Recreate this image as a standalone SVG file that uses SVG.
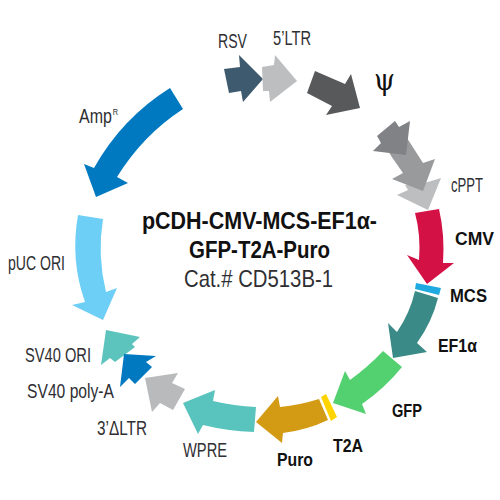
<svg xmlns="http://www.w3.org/2000/svg" width="500" height="500" viewBox="0 0 500 500">
<style>
text{font-family:"Liberation Sans",Arial,sans-serif;fill:#2f2f33}
.l{font-size:19.5px}
.b{font-size:18px;font-weight:700;fill:#111}
.t{font-size:23px;font-weight:700;fill:#111;text-anchor:start}
</style>
<rect width="500" height="500" fill="#fff"/>
<g id="connectors"/>
<g id="rsv"><path fill="#3e5a6e" d="M224 69L240 67L239 55L263 79L243 102L241 91L229 93Z"/><text class="l" x="218" y="48" textLength="29" lengthAdjust="spacingAndGlyphs">RSV</text></g>
<g id="ltr5"><path fill="#bcbec0" d="M262 67L274 65L275 55L297 81L270 102L269 91L263 91Z"/><text class="l" x="273" y="45" textLength="38" lengthAdjust="spacingAndGlyphs">5’LTR</text></g>
<g id="psi"><path fill="#58595b" d="M315 71L345 84L351 74L360 108L326 115L332 106L307 93Z"/><text x="374" y="90" font-size="29" style="font-family:'DejaVu Serif',serif;fill:#111" textLength="21" lengthAdjust="spacingAndGlyphs">ψ</text></g>
<g id="cppt">
<path fill="#bcbec0" d="M405 185L428 182L441 178L428 210L397 195L408 190Z"/>
<path fill="#999a9c" d="M407 138L423 163L435 159L423 191L392 179L403 173Q392 158 383 143Z"/>
<path fill="#808285" d="M377 136L395 121L399 127L410 121L406 155L373 151L381 143Z"/>
<text class="l" x="451" y="192" textLength="32" lengthAdjust="spacingAndGlyphs">cPPT</text></g>
<g id="cmv"><path fill="#d31145" d="M415 213L439 209Q445 235 443 263L454 263L427 284L407 255L419 260Q421 235 415 213Z"/><text class="b" x="455" y="245" textLength="39" lengthAdjust="spacingAndGlyphs">CMV</text></g>
<g id="mcs"><path fill="#1fa9e1" d="M416 283L441 288L439 295L415 289Z"/><text class="b" x="450" y="302" textLength="37" lengthAdjust="spacingAndGlyphs">MCS</text></g>
<g id="ef1a"><path fill="#3a8a87" d="M415 291L438 298Q432 322 417 343L427 352L393 358L388 323L397 332Q410 313 415 291Z"/><text class="b" x="438" y="352" textLength="39" lengthAdjust="spacingAndGlyphs">EF1α</text></g>
<g id="gfp"><path fill="#53d06f" d="M383 351L402 367Q385 388 362 404L366 414L333 403L345 371L350 380Q368 367 383 351Z"/><text class="b" x="392" y="417" textLength="30" lengthAdjust="spacingAndGlyphs">GFP</text></g>
<g id="t2a"><path fill="#ffd400" d="M326 394L337 417L331 421L321 397Z"/><text class="b" x="333" y="452" textLength="30" lengthAdjust="spacingAndGlyphs">T2A</text></g>
<g id="puro"><path fill="#d39b13" d="M319 399L328 420Q307 430 283 433L282 443L256 422L278 396L280 407Q300 405 319 399Z"/><text class="b" x="277" y="466" textLength="36" lengthAdjust="spacingAndGlyphs">Puro</text></g>
<g id="wpre"><path fill="#59c3bd" d="M256 407L254 432Q227 431 203 425L198 434L183 403L215 390L213 401Q234 406 256 407Z"/><text class="l" x="183" y="457" textLength="44" lengthAdjust="spacingAndGlyphs">WPRE</text></g>
<g id="ltr3"><path fill="#b8babc" d="M145 378L178 373L172 383L185 389L173 410L160 403L152 412Z"/><text class="l" x="97" y="435" textLength="50" lengthAdjust="spacingAndGlyphs">3’ΔLTR</text></g>
<g id="sv40ori"><path fill="#5cc4bc" d="M106 330L140 337L132 344L135 347L115 362L110 358L101 365Z"/><text class="l" x="25" y="362" textLength="66" lengthAdjust="spacingAndGlyphs">SV40 ORI</text></g>
<g id="sv40polya"><path fill="#0079c1" d="M124 354L156 356L146 362L152 367L135 384L129 378L120 387Z"/><text class="l" x="27" y="398" textLength="87" lengthAdjust="spacingAndGlyphs">SV40 poly-A</text></g>
<g id="puc"><path fill="#6dcff6" d="M78 215L103 219Q97 255 106 292L117 288L103 320L72 305L85 302Q70 260 78 215Z"/><text class="l" x="8" y="270" textLength="57" lengthAdjust="spacingAndGlyphs">pUC ORI</text></g>
<g id="amp"><path fill="#0079c1" d="M170 88L183 109Q143 135 117 177L128 183L96 197L84 164L94 168Q122 118 170 88Z"/><text class="l" x="79" y="123" textLength="39" lengthAdjust="spacingAndGlyphs">Amp<tspan font-size="9" dx="1" dy="-8">R</tspan></text></g>
<g id="title">
<text class="t" x="142" y="229" textLength="235" lengthAdjust="spacingAndGlyphs">pCDH-CMV-MCS-EF1α-</text>
<text class="t" x="189" y="258" textLength="141" lengthAdjust="spacingAndGlyphs">GFP-T2A-Puro</text>
<text x="184" y="287" font-size="24" textLength="149" lengthAdjust="spacingAndGlyphs">Cat.# CD513B-1</text>
</g>
</svg>
